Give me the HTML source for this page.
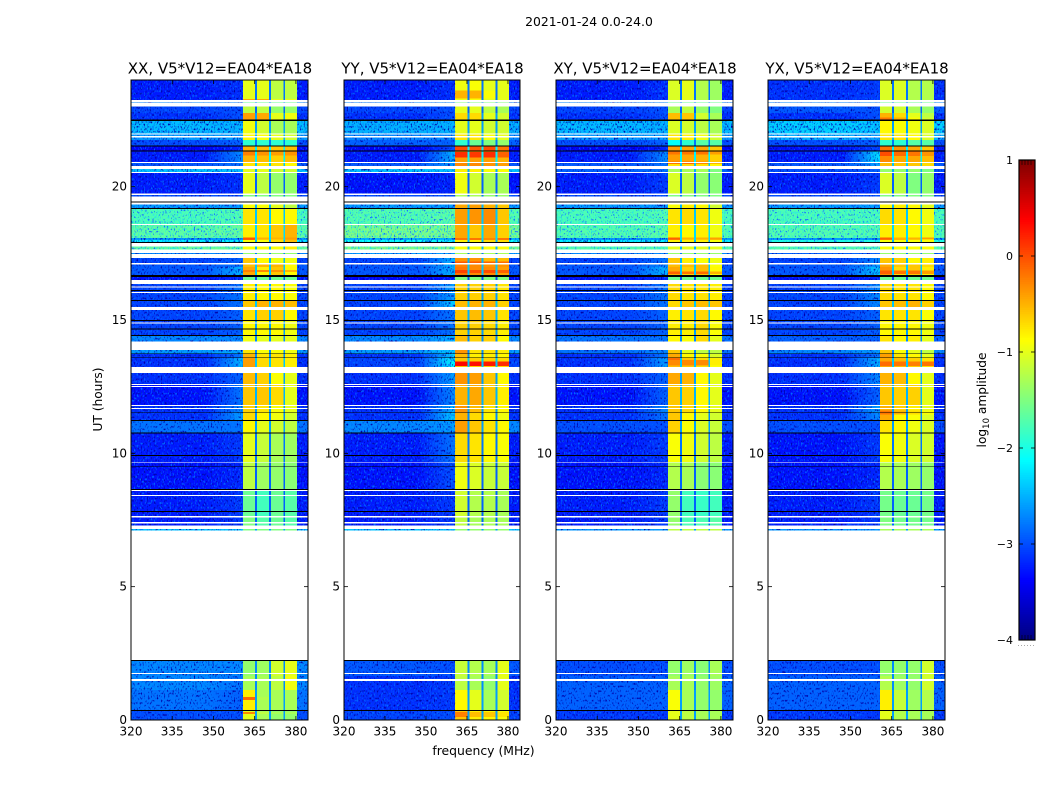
<!DOCTYPE html>
<html lang="en">
<head>
<meta charset="utf-8">
<title>2021-01-24 amplitude waterfall</title>
<style>
html,body{margin:0;padding:0;background:#fff;width:1050px;height:800px;overflow:hidden}
svg{display:block}
text{font-family:"DejaVu Sans","Liberation Sans",sans-serif;fill:#000}
</style>
</head>
<body>
<svg id="chart" xmlns="http://www.w3.org/2000/svg" width="1050" height="800" viewBox="0 0 1050 800">
<defs id="defs">
<filter id="speckLight" x="0" y="0" width="100%" height="100%" color-interpolation-filters="sRGB">
<feTurbulence type="fractalNoise" baseFrequency="0.7 0.42" numOctaves="1" seed="3"/>
<feColorMatrix values="0 0 0 0 0  0 0 0 0 0.42  0 0 0 0 1  5 0 0 0 -2.7"/>
</filter>
<filter id="speckDark" x="0" y="0" width="100%" height="100%" color-interpolation-filters="sRGB">
<feTurbulence type="fractalNoise" baseFrequency="0.7 0.42" numOctaves="1" seed="11"/>
<feColorMatrix values="0 0 0 0 0  0 0 0 0 0  0 0 0 0 0.65  -5 0 0 0 2.2"/>
</filter>
<filter id="speckSparse" x="0" y="0" width="100%" height="100%" color-interpolation-filters="sRGB">
<feTurbulence type="fractalNoise" baseFrequency="0.7 0.42" numOctaves="1" seed="5"/>
<feColorMatrix values="0 0 0 0 0.1  0 0 0 0 0.45  0 0 0 0 1  14 0 0 0 -8.8"/>
</filter>
<filter id="speckCyan" x="0" y="0" width="100%" height="100%" color-interpolation-filters="sRGB">
<feTurbulence type="fractalNoise" baseFrequency="0.7 0.42" numOctaves="1" seed="8"/>
<feColorMatrix values="0 0 0 0 0.15  0 0 0 0 0.9  0 0 0 0 0.9  4 0 0 0 -1.9"/>
</filter>
</defs>
<text x="589" y="26" font-size="12.4" text-anchor="middle">2021-01-24 0.0-24.0</text>
<text x="483.5" y="755" font-size="12.4" text-anchor="middle">frequency (MHz)</text>
<text x="0" y="0" font-size="12.2" text-anchor="middle" transform="translate(102 399.5) rotate(-90)">UT (hours)</text>
<text x="0" y="0" font-size="12.2" text-anchor="middle" transform="translate(986 400) rotate(-90)">log<tspan font-size="8.5" dy="3">10</tspan><tspan dy="-3"> amplitude</tspan></text>
<g id="panels"></g>
<g id="colorbar"></g>
</svg>
<script>
/* ---------- data ---------- */
const panelTitles = ["XX, V5*V12=EA04*EA18","YY, V5*V12=EA04*EA18","XY, V5*V12=EA04*EA18","YX, V5*V12=EA04*EA18"];
const freqTicks = [320,335,350,365,380];
const timeTicks = [0,5,10,15,20];
const colorTicks = [1,0,-1,-2,-3,-4];

/* start hour of each observation band (each band ends where the next starts) */
const bandTopHours = [24,23.25,23.0,22.76,22.51,22.0,21.75,21.51,21.31,20.93,20.66,20.51,19.75,19.41,19.18,18.58,18.08,18.0,17.89,17.52,17.33,17.13,16.99,16.68,16.5,15.73,15.48,14.98,14.42,14.19,13.75,13.58,13.23,12.6,11.81,11.52,11.23,10.77,9.67,8.63,7.65,7.29,2.25,1.65,1.13,0.34];

/* hour ranges with no data */
const blankRanges = [[23.25,23.16],[23.13,23.0],[22.0,21.96],[21.9,21.85],[20.93,20.89],[20.78,20.66],[20.55,20.51],[19.75,19.68],[19.64,19.45],[19.41,19.34],[18.6,18.56],[17.89,17.75],[17.65,17.52],[17.48,17.33],[17.13,17.09],[16.5,16.35],[16.26,16.22],[16.05,16.01],[15.48,15.38],[14.9,14.86],[14.19,13.88],[13.23,13.02],[12.6,12.56],[12.53,12.49],[11.81,11.78],[11.7,11.66],[9.65,9.63],[8.63,8.58],[8.44,8.4],[7.65,7.59],[7.43,7.36],[7.29,7.16],[7.1,2.25],[1.76,1.73],[1.54,1.47]];
/* hour ranges flagged to zero */
const flaggedRanges = [[22.51,22.47],[21.54,21.51],[21.35,21.31],[19.45,19.41],[19.2,19.16],[17.93,17.89],[16.68,16.61],[16.13,16.09],[15.75,15.71],[15.0,14.96],[14.69,14.65],[14.44,14.4],[13.75,13.73],[13.6,13.58],[11.54,11.51],[11.25,11.22],[10.79,10.75],[9.93,9.9],[9.51,9.49],[8.66,8.63],[7.84,7.8],[2.25,2.21],[0.375,0.34]];

/* log10 amplitude in each RFI-free notch, per band */
const notchLevels = [-2.8,-2.8,-2.9,-2.6,-2.6,-2.5,-2.8,-2.2,-2.2,-2.4,-2.5,-2.9,-2.8,-2.5,-2.4,-2.3,-2.3,-2.5,-2.5,-2.8,-2.5,-2.4,-2.4,-3.0,-2.6,-2.4,-2.5,-2.6,-2.7,-2.7,-2.7,-2.4,-2.6,-2.5,-2.6,-2.7,-2.6,-2.8,-2.9,-2.9,-2.9,-2.6,-2.7,-2.7,-2.6,-2.6];

/* each row: background, near-band rise, sub-band 1, 2, 3, 4 */
const levelsXX = [
[-3.25,-3.15,-1.0,-1.0,-1.2,-1.2],[-2.7,-2.7,-1.6,-1.6,-1.6,-1.6],[-3.05,-3.0,-1.2,-1.2,-1.4,-1.4],[-3.15,-3.0,-0.4,-0.45,-1.0,-0.95],
[-2.45,-2.5,-0.95,-1.1,-1.3,-1.3],[-2.6,-2.6,-0.85,-0.9,-1.0,-1.1],[-3.0,-2.9,-1.9,-1.9,-1.9,-1.9],[-3.4,-3.2,-0.5,-0.55,-0.6,-0.55],
[-3.25,-2.7,-0.5,-0.55,-0.65,-0.55],[-2.95,-2.8,-0.75,-0.75,-0.75,-0.85],[-2.4,-2.4,-1.0,-1.0,-1.1,-1.1],[-3.25,-3.15,-1.0,-1.2,-1.4,-1.4],
[-3.0,-3.0,-1.5,-1.5,-1.5,-1.5],[-2.6,-2.6,-0.9,-0.9,-1.0,-1.2],[-1.75,-1.7,-0.75,-0.75,-0.85,-0.85],[-1.65,-1.6,-0.8,-0.75,-0.6,-0.5],
[-2.6,-2.6,-0.1,-0.6,-0.6,-0.45],[-2.2,-2.2,-0.9,-0.9,-0.7,-0.55],[-1.6,-1.6,-0.9,-0.9,-0.9,-0.8],[-2.7,-2.7,-1.4,-1.4,-1.4,-1.4],
[-3.05,-2.9,-0.6,-0.85,-0.95,-0.95],[-2.95,-2.8,-0.55,-0.5,-0.5,-0.85],[-2.95,-2.5,-0.45,-0.8,-0.6,-0.85],[-3.3,-3.2,-1.6,-1.6,-1.6,-1.6],
[-3.05,-2.8,-0.8,-0.85,-0.85,-0.9],[-3.05,-2.8,-0.6,-0.5,-0.5,-0.55],[-3.05,-2.9,-0.75,-0.65,-0.65,-0.85],[-3.05,-2.9,-0.85,-0.85,-0.85,-0.95],
[-2.7,-2.7,-0.95,-1.0,-1.0,-1.0],[-2.6,-2.5,-0.75,-0.9,-0.9,-0.95],[-3.15,-2.8,-0.5,-0.75,-0.75,-0.8],[-3.15,-2.5,-0.4,-0.7,-0.75,-0.8],
[-3.15,-2.9,-0.55,-0.65,-0.9,-1.0],[-3.3,-2.8,-0.6,-0.6,-0.7,-1.0],[-3.15,-2.7,-0.65,-0.75,-0.9,-1.0],[-3.15,-2.6,-0.7,-0.85,-0.95,-1.1],
[-2.8,-2.8,-0.85,-1.0,-1.1,-1.2],[-3.25,-3.1,-1.0,-1.15,-1.3,-1.35],[-3.3,-3.2,-1.2,-1.35,-1.4,-1.45],[-3.25,-3.1,-1.6,-1.8,-1.6,-1.7],
[-3.25,-3.1,-1.5,-1.7,-1.6,-1.7],[-2.4,-2.4,-1.5,-1.5,-1.5,-1.5],[-2.7,-2.7,-1.4,-1.35,-1.1,-1.0],[-2.7,-2.8,-1.3,-1.3,-1.2,-0.95],
[-2.8,-2.9,-0.8,-1.3,-1.3,-1.3],[-3.0,-3.0,-1.0,-1.3,-1.4,-1.4]];
const levelsYY = [
[-3.25,-3.15,-0.95,-0.9,-1.0,-1.0],[-2.7,-2.7,-1.5,-1.5,-1.5,-1.5],[-3.05,-3.0,-1.0,-1.0,-1.2,-1.3],[-3.15,-3.0,-0.7,-0.7,-1.0,-1.1],
[-2.5,-2.5,-1.0,-1.0,-1.1,-1.1],[-2.7,-2.7,-0.75,-0.75,-0.9,-1.0],[-2.9,-2.9,-1.9,-1.6,-1.5,-1.4],[-3.4,-3.0,0.0,-0.05,0.0,-0.2],
[-3.25,-2.5,-0.4,-0.4,-0.4,-0.5],[-2.95,-2.6,-0.3,-0.3,-0.35,-0.4],[-2.4,-2.4,-0.8,-0.8,-0.9,-0.9],[-3.3,-3.2,-0.95,-1.1,-1.3,-1.3],
[-3.0,-3.0,-1.3,-1.3,-1.4,-1.4],[-2.6,-2.6,-0.45,-0.4,-0.5,-0.6],[-1.7,-1.65,-0.4,-0.35,-0.3,-0.6],[-1.5,-1.5,-0.45,-0.6,-0.45,-0.65],
[-2.5,-2.5,-0.2,-0.2,-0.3,-0.2],[-2.1,-2.1,-0.8,-0.8,-0.7,-0.7],[-1.5,-1.5,-0.9,-0.9,-0.9,-0.9],[-2.6,-2.6,-1.3,-1.3,-1.3,-1.3],
[-3.05,-2.5,-0.35,-0.35,-0.55,-0.55],[-2.95,-2.5,-0.25,-0.3,-0.35,-0.35],[-2.95,-2.5,-0.2,-0.3,-0.3,-0.4],[-3.4,-3.3,-1.5,-1.5,-1.5,-1.5],
[-3.05,-2.6,-0.65,-0.65,-0.65,-0.75],[-3.05,-2.4,-0.55,-0.5,-0.5,-0.65],[-3.05,-2.8,-0.6,-0.55,-0.6,-0.75],[-3.05,-2.8,-0.65,-0.65,-0.7,-0.8],
[-2.7,-2.5,-0.55,-0.65,-0.65,-0.85],[-2.6,-2.4,-0.35,-0.75,-0.75,-0.8],[-3.15,-2.4,-0.55,-0.8,-0.8,-0.85],[-3.05,-2.2,-0.6,-0.65,-0.65,-0.7],
[-3.15,-2.6,-0.35,-0.4,-0.6,-0.85],[-3.3,-2.7,-0.5,-0.45,-0.6,-0.8],[-3.15,-2.5,-0.35,-0.55,-0.75,-0.85],[-3.15,-2.4,-0.5,-0.7,-0.85,-0.95],
[-2.7,-2.6,-0.4,-0.6,-0.75,-0.85],[-3.25,-2.8,-0.7,-0.75,-0.85,-0.9],[-3.3,-3.0,-0.95,-1.05,-1.15,-1.15],[-3.25,-3.1,-1.1,-1.25,-1.25,-1.3],
[-3.25,-3.1,-1.2,-1.3,-1.3,-1.3],[-2.4,-2.4,-1.4,-1.4,-1.4,-1.4],[-2.95,-3.0,-1.15,-1.25,-1.3,-1.0],[-3.15,-3.1,-1.2,-1.3,-1.4,-1.0],
[-3.15,-3.1,-0.85,-1.0,-1.3,-1.1],[-3.05,-3.0,-0.6,-0.8,-0.85,-0.9]];
const levelsXY = [
[-3.25,-3.15,-1.05,-1.0,-1.25,-1.35],[-2.7,-2.7,-1.6,-1.6,-1.6,-1.6],[-3.05,-3.0,-1.3,-1.2,-1.4,-1.5],[-3.15,-3.0,-0.55,-0.6,-1.1,-1.3],
[-2.45,-2.5,-1.05,-1.1,-1.2,-1.3],[-2.6,-2.6,-0.75,-0.8,-0.95,-1.1],[-3.0,-2.9,-2.1,-1.9,-1.7,-1.7],[-3.4,-3.2,-0.4,-0.45,-0.45,-0.6],
[-3.25,-2.7,-0.4,-0.45,-0.5,-0.65],[-2.95,-2.8,-0.75,-0.7,-0.75,-0.85],[-2.9,-2.8,-1.3,-1.3,-1.3,-1.5],[-3.25,-3.1,-1.05,-1.2,-1.4,-1.45],
[-3.0,-3.0,-1.5,-1.5,-1.5,-1.5],[-2.6,-2.6,-0.9,-0.8,-0.85,-1.1],[-1.75,-1.7,-0.75,-0.7,-0.75,-0.95],[-1.7,-1.65,-0.8,-0.85,-0.8,-0.95],
[-2.6,-2.6,-0.2,-0.6,-0.6,-0.5],[-2.2,-2.2,-0.8,-0.8,-0.8,-0.9],[-1.7,-1.7,-1.0,-1.0,-1.0,-1.0],[-2.7,-2.7,-1.4,-1.4,-1.4,-1.4],
[-3.05,-2.8,-0.6,-0.8,-0.9,-0.95],[-2.95,-2.7,-0.55,-0.55,-0.55,-0.9],[-2.95,-2.5,-0.45,-0.65,-0.55,-0.85],[-3.3,-3.2,-1.6,-1.6,-1.6,-1.6],
[-3.05,-2.8,-0.7,-0.75,-0.75,-0.8],[-3.05,-2.8,-0.7,-0.6,-0.55,-0.6],[-3.05,-2.9,-0.8,-0.75,-0.7,-0.85],[-3.05,-2.9,-0.8,-0.8,-0.7,-0.9],
[-2.8,-2.8,-0.85,-0.9,-0.7,-1.0],[-2.8,-2.7,-0.6,-1.0,-1.2,-1.2],[-3.15,-2.8,-0.45,-0.85,-0.9,-1.05],[-3.15,-2.6,-0.55,-0.6,-0.7,-0.9],
[-3.15,-2.9,-0.45,-0.5,-0.85,-1.0],[-3.3,-2.9,-0.6,-0.65,-0.85,-1.0],[-3.15,-2.7,-0.6,-0.7,-0.85,-1.0],[-3.15,-2.8,-0.6,-0.85,-1.0,-1.1],
[-3.0,-3.0,-0.65,-0.9,-1.05,-1.15],[-3.25,-3.1,-0.9,-0.95,-1.1,-1.2],[-3.3,-3.2,-1.25,-1.3,-1.45,-1.45],[-3.25,-3.1,-1.4,-1.8,-1.85,-1.8],
[-3.25,-3.1,-1.4,-1.75,-1.75,-1.7],[-2.6,-2.6,-1.2,-1.2,-1.2,-1.2],[-3.0,-3.0,-1.4,-1.35,-1.45,-1.3],[-2.9,-2.9,-1.3,-1.3,-1.4,-1.35],
[-2.9,-2.9,-0.9,-1.3,-1.4,-1.4],[-3.1,-3.1,-1.0,-1.2,-1.3,-1.3]];
const levelsYX = [
[-3.15,-3.1,-1.05,-1.05,-1.25,-1.25],[-2.7,-2.7,-1.6,-1.6,-1.6,-1.6],[-2.95,-3.0,-1.1,-1.1,-1.3,-1.4],[-3.15,-3.0,-0.5,-0.7,-1.0,-1.2],
[-2.35,-2.4,-0.85,-0.9,-0.95,-1.05],[-2.5,-2.6,-0.75,-0.75,-0.85,-1.05],[-3.0,-2.9,-1.9,-1.9,-1.7,-1.7],[-3.3,-3.1,-0.2,-0.35,-0.45,-0.6],
[-3.25,-2.3,-0.3,-0.45,-0.45,-0.55],[-2.95,-2.6,-0.55,-0.6,-0.6,-0.7],[-3.0,-2.9,-1.4,-1.4,-1.4,-1.5],[-3.25,-3.1,-1.05,-1.2,-1.5,-1.4],
[-3.0,-3.0,-1.5,-1.5,-1.5,-1.5],[-2.6,-2.6,-0.85,-0.8,-0.85,-1.0],[-1.75,-1.75,-0.7,-0.75,-0.85,-0.95],[-1.7,-1.7,-0.8,-0.8,-0.85,-0.95],
[-2.6,-2.6,-0.2,-0.5,-0.6,-0.7],[-2.0,-2.0,-0.9,-0.9,-0.9,-0.9],[-1.7,-1.7,-0.9,-0.9,-0.9,-0.9],[-2.9,-2.9,-1.4,-1.4,-1.4,-1.4],
[-3.05,-2.7,-0.6,-0.65,-0.85,-0.8],[-2.95,-2.6,-0.45,-0.6,-0.6,-0.7],[-2.95,-2.4,-0.35,-0.7,-0.6,-0.8],[-3.3,-3.2,-1.6,-1.6,-1.6,-1.6],
[-3.05,-2.7,-0.7,-0.75,-0.75,-0.85],[-3.05,-2.7,-0.6,-0.55,-0.5,-0.65],[-3.05,-2.9,-0.75,-0.75,-0.75,-0.9],[-3.05,-2.9,-0.85,-0.85,-0.85,-0.95],
[-2.9,-2.9,-0.75,-0.85,-0.8,-1.0],[-2.7,-2.6,-0.6,-0.9,-1.0,-1.2],[-3.15,-2.8,-0.4,-0.75,-0.85,-1.0],[-3.15,-2.5,-0.45,-0.55,-0.65,-0.75],
[-3.15,-2.7,-0.5,-0.55,-0.85,-1.0],[-3.3,-2.9,-0.6,-0.65,-0.65,-1.0],[-3.15,-2.6,-0.5,-0.65,-0.8,-1.0],[-3.15,-2.7,-0.45,-0.85,-0.9,-1.05],
[-3.0,-3.0,-0.75,-0.85,-0.95,-1.05],[-3.3,-3.1,-0.9,-0.95,-1.05,-1.1],[-3.3,-3.2,-1.25,-1.3,-1.35,-1.4],[-3.25,-3.1,-1.55,-1.6,-1.6,-1.55],
[-3.25,-3.1,-1.5,-1.55,-1.55,-1.55],[-2.6,-2.6,-1.3,-1.3,-1.3,-1.3],[-3.0,-3.0,-1.4,-1.4,-1.4,-1.1],[-2.9,-2.9,-1.25,-1.35,-1.4,-1.1],
[-2.9,-2.9,-0.8,-1.15,-1.35,-1.25],[-3.1,-3.1,-1.0,-1.25,-1.3,-1.3]];
const panelLevels = [levelsXX,levelsYY,levelsXY,levelsYX];

/* narrow bright stripes inside the sub-bands: hour top, hour bottom, sub-band 1..4 */
const stripesXX = [[23.29,23.25,-0.45,-0.45,-1.0,-1.0],[21.31,21.17,-0.25,-0.35,-0.4,-0.35],[18.1,18.04,-0.05,-0.5,-0.5,-0.4],[16.88,16.8,-0.25,-0.3,-0.35,-0.5],[0.86,0.75,-0.15,-1.25,-1.3,-1.3],[0.3,0.22,-0.3,-1.2,-1.3,-1.3]];
const stripesYY = [[23.6,23.3,-0.5,-0.5,-0.9,-1.0],[21.3,21.1,0.15,0.1,0.15,-0.1],[13.44,13.27,0.35,0.3,0.25,0.15],[17.2,17.14,-0.05,-0.05,-0.1,-0.15],[16.88,16.76,0.05,0.0,0.0,-0.1],[0.3,0.12,-0.25,-0.55,-0.6,-0.75]];
const stripesXY = [[21.31,21.2,-0.2,-0.2,-0.2,-0.4],[20.95,20.85,-0.2,-0.15,-0.3,-0.5],[18.1,18.04,-0.1,-0.5,-0.5,-0.4],[16.82,16.72,-0.1,-0.2,-0.15,-0.5],[13.5,13.3,-0.3,-0.3,-0.3,-0.8],[13.58,13.5,-0.15,-0.6,-0.7,-0.8]];
const stripesYX = [[21.31,21.15,0.0,-0.15,-0.2,-0.35],[18.1,18.04,-0.1,-0.5,-0.5,-0.4],[16.85,16.72,-0.1,-0.2,-0.2,-0.4],[13.45,13.27,-0.15,-0.2,-0.25,-0.2],[11.6,11.45,-0.2,-0.5,-0.7,-0.9],[22.6,22.52,-0.2,-0.5,-0.9,-1.1]];
const panelStripes = [stripesXX,stripesYY,stripesXY,stripesYX];

/* ---------- layout and scales ---------- */
const NS = "http://www.w3.org/2000/svg";
const axesLeft = [131,344,556,768];
const axesWidth = [177,176,177,177];
const axesTop = 80, axesBottom = 720;
const freqMin = 320, freqMax = 384.4;
const colorMin = -4, colorMax = 1;
/* channel layout in MHz: the four receiver sub-bands and the notches between them */
const rfiStart = 360.7, rfiEnd = 380.4, shoulderStart = 348;
const shoulderSteps = 8;
const subBandEdges = [[360.7,365.2],[365.9,370.3],[371,375.4],[376.1,380.4]];
const notchEdges = [[365.2,365.9],[370.3,371],[375.4,376.1]];

function yScale(h){ return axesTop + (24 - h) / 24 * (axesBottom - axesTop); }
function xScale(p, f){ return axesLeft[p] + (f - freqMin) / (freqMax - freqMin) * axesWidth[p]; }
function jet(v){
  if (v < colorMin) return "#000";
  const t = Math.min(1, (v - colorMin) / (colorMax - colorMin));
  const ch = x => Math.round(255 * Math.max(0, Math.min(1, x)));
  const r = ch(Math.min(4*t - 1.5, -4*t + 4.5));
  const g = ch(Math.min(4*t - 0.5, -4*t + 3.5));
  const b = ch(Math.min(4*t + 0.5, -4*t + 2.5));
  return "rgb(" + r + "," + g + "," + b + ")";
}
function mk(tag, attrs, parent){
  const el = document.createElementNS(NS, tag);
  for (const k in attrs) el.setAttribute(k, attrs[k]);
  parent.appendChild(el);
  return el;
}

const panelsGroup = document.getElementById("panels");
const defsEl = document.getElementById("defs");
const panelKeys = ["xx","yy","xy","yx"];
const brightBackgroundFloor = -2.05;

panelKeys.forEach(function(key, p){
  const g = mk("g", {}, panelsGroup);
  
  
  const L = axesLeft[p], W = axesWidth[p];

  const heat = mk("g", {"shape-rendering":"crispEdges"}, g);
  
  

  function cell(f0, f1, h0, h1, v){
    const x0 = xScale(p, f0), x1 = xScale(p, f1);
    const y0 = yScale(h0), y1 = yScale(h1);
    const r = mk("rect", {x:x0, y:y0, width:x1-x0, height:y1-y0, fill:jet(v)}, heat);
    
    
  }

  const rows = panelLevels[p];
  const clipDim = mk("clipPath", {id:"clipDim" + p}, defsEl);
  const clipBright = mk("clipPath", {id:"clipBright" + p}, defsEl);
  const bgSpans = [[freqMin, rfiStart],[rfiEnd, freqMax]];

  bandTopHours.forEach(function(top, i){
    const next = i + 1 < bandTopHours.length ? bandTopHours[i+1] : 0;
    const row = rows[i];
    const bg = row[0], rise = row[1];
    cell(freqMin, shoulderStart, top, next, bg);
    const stepWidth = (rfiStart - shoulderStart) / shoulderSteps;
    for (let s = 0; s < shoulderSteps; s++){
      const frac = (s + 1) / shoulderSteps;
      cell(shoulderStart + s * stepWidth, shoulderStart + (s + 1) * stepWidth, top, next, bg + (rise - bg) * frac);
    }
    subBandEdges.forEach(function(e, s){ cell(e[0], e[1], top, next, row[2 + s]); });
    notchEdges.forEach(function(e){ cell(e[0], e[1], top, next, notchLevels[i]); });
    cell(rfiEnd, freqMax, top, next, bg);
    const target = bg < brightBackgroundFloor ? clipDim : clipBright;
    bgSpans.forEach(function(s){
      mk("rect", {x:xScale(p, s[0]), y:yScale(top), width:xScale(p, s[1])-xScale(p, s[0]), height:yScale(next)-yScale(top)}, target);
    });
  });

  panelStripes[p].forEach(function(st){
    subBandEdges.forEach(function(e, s){ cell(e[0], e[1], st[0], st[1], st[2 + s]); });
  });

  /* receiver speckle over the band-free channels */
  const speckDim = mk("g", {"clip-path":"url(#clipDim" + p + ")"}, g);
  
  
  const speckBright = mk("g", {"clip-path":"url(#clipBright" + p + ")"}, g);
  
  
  [["speckLight", speckDim],["speckDark", speckDim],["speckCyan", speckBright],["speckSparse", speckBright]].forEach(function(pair){
    const n = mk("rect", {x:L, y:axesTop, width:W, height:axesBottom-axesTop, filter:"url(#" + pair[0] + ")"}, pair[1]);
    
    
  });

  const over = mk("g", {"shape-rendering":"crispEdges"}, g);
  blankRanges.forEach(function(r){
    const b = mk("rect", {x:L, y:yScale(r[0]), width:W, height:yScale(r[1])-yScale(r[0]), fill:"#fff"}, over);
    
    
  });
  flaggedRanges.forEach(function(r){
    const b = mk("rect", {x:L, y:yScale(r[0]), width:W, height:yScale(r[1])-yScale(r[0]), fill:"#000"}, over);
    
    
  });

  /* axes frame */
  const frame = mk("rect", {x:L, y:axesTop, width:W, height:axesBottom-axesTop, fill:"none", stroke:"#000", "stroke-width":1}, g);
  
  

  /* ticks and tick labels */
  freqTicks.forEach(function(f){
    const x = xScale(p, f);
    const t1 = mk("line", {x1:x, x2:x, y1:axesBottom, y2:axesBottom-4, stroke:"#000", "stroke-width":0.8}, g);
    
    
    const t2 = mk("line", {x1:x, x2:x, y1:axesTop, y2:axesTop+4, stroke:"#000", "stroke-width":0.8}, g);
    
    
    const lb = mk("text", {x:x, y:735.5, "font-size":12, "text-anchor":"middle"}, g);
    
    
    lb.textContent = String(f);
  });
  timeTicks.forEach(function(h){
    const y = yScale(h);
    const t1 = mk("line", {x1:L, x2:L+4, y1:y, y2:y, stroke:"#000", "stroke-width":0.8}, g);
    
    
    const t2 = mk("line", {x1:L+W, x2:L+W-4, y1:y, y2:y, stroke:"#000", "stroke-width":0.8}, g);
    
    
    const lb = mk("text", {x:L-4, y:y+4, "font-size":12, "text-anchor":"end"}, g);
    
    
    lb.textContent = String(h);
  });

  const title = mk("text", {x:L+W/2+0.5, y:73.5, "font-size":15, "text-anchor":"middle"}, g);
  
  
  title.textContent = panelTitles[p];
});

/* ---------- colorbar ---------- */
const cb = document.getElementById("colorbar");
const cbLeft = 1019, cbRight = 1035, cbTop = 160, cbBottom = 640;
function cbY(v){ return cbTop + (colorMax - v) / (colorMax - colorMin) * (cbBottom - cbTop); }
const cbSteps = 256;
const ramp = mk("g", {"shape-rendering":"crispEdges"}, cb);


for (let i = 0; i < cbSteps; i++){
  const v0 = colorMax - i / cbSteps * (colorMax - colorMin);
  const v1 = colorMax - (i + 1) / cbSteps * (colorMax - colorMin);
  const seg = mk("rect", {x:cbLeft, y:cbY(v0), width:cbRight-cbLeft, height:cbY(v1)-cbY(v0)+0.5, fill:jet((v0+v1)/2)}, ramp);
  
  
}
const cbFrame = mk("rect", {x:cbLeft, y:cbTop, width:cbRight-cbLeft, height:cbBottom-cbTop, fill:"none", stroke:"#000", "stroke-width":1.2}, cb);


colorTicks.forEach(function(v){
  const y = cbY(v);
  const t1 = mk("line", {x1:cbLeft, x2:cbLeft+4, y1:y, y2:y, stroke:"#000", "stroke-width":0.8}, cb);
  
  
  const t2 = mk("line", {x1:cbRight, x2:cbRight-4, y1:y, y2:y, stroke:"#000", "stroke-width":0.8}, cb);
  
  
  const lb = mk("text", {x:1013, y:y+4, "font-size":11, "text-anchor":"end"}, cb);
  
  
  lb.textContent = v < 0 ? "\u2212" + Math.abs(v) : String(v);
});
/* end-cap minor marks */
[1022,1025,1028,1031].forEach(function(x){
  const a = mk("line", {x1:x, x2:x, y1:cbTop, y2:cbTop+5, stroke:"#000", "stroke-width":0.6}, cb);
  
  
  const b = mk("line", {x1:x, x2:x, y1:cbBottom, y2:cbBottom-5, stroke:"#000", "stroke-width":0.6}, cb);
  
  
});
[1018,1021,1024,1027,1030,1033].forEach(function(x){
  const d = mk("rect", {x:x, y:645, width:1, height:1, fill:"#aaa"}, cb);
  
  
});
</script>
</body>
</html>
